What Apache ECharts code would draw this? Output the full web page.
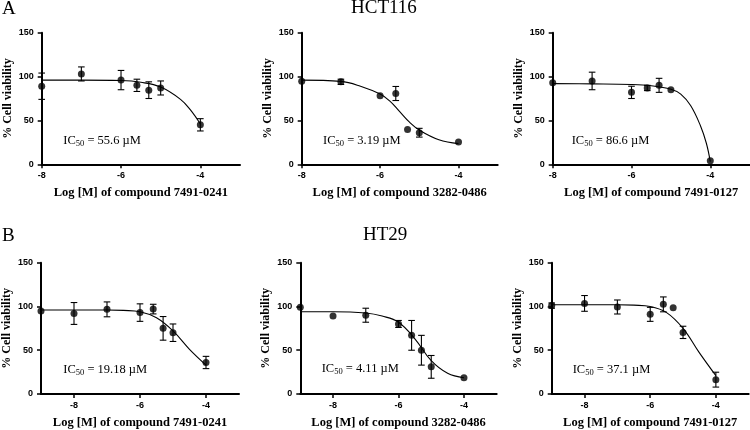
<!DOCTYPE html>
<html>
<head>
<meta charset="utf-8">
<script src="https://cdn.jsdelivr.net/npm/echarts@6/dist/echarts.min.js"></script>
<style>
  html, body { margin: 0; padding: 0; background: #fff; }
  #main { width: 750px; height: 430px; }
</style>
</head>
<body>
<div id="main"></div>
<script>
// log [M] doses
const dosesTop = [-8, -7, -6, -5.6, -5.3, -5, -4];
const dosesBottom = [-9, -8, -7, -6, -5.6, -5.3, -5, -4];
const xTicks = [-8, -6, -4];

// HCT116 - 7491-0241
const a1Mean = [89, 103, 96, 90, 84.5, 87, 45];
const a1Err = [15, 8, 11, 7, 9.5, 8, 7];
const a1FitX = [-8, -7, -6, -5.5, -5, -4.5, -4.25, -4];
const a1FitY = [96, 96, 95.5, 93.5, 88, 74, 62, 46];
// HCT116 - 3282-0486
const a2Mean = [94.8, 94, 78, 80.7, 39.6, 36, 25.5];
const a2Err = [0, 3, 0, 8, 0, 5, 0];
const a2FitX = [-8, -7, -6.5, -6, -5.75, -5.5, -5.25, -5, -4.5, -4];
const a2FitY = [96, 94.5, 89, 80, 72, 60, 48, 39, 28, 23.6];
// HCT116 - 7491-0127
const a3Mean = [92.9, 95, 82, 87, 90, 85, 4];
const a3Err = [0, 10, 7, 3, 8, 0, 0];
const a3FitX = [-8, -7, -6, -5.5, -5, -4.75, -4.5, -4.25, -4.1, -4];
const a3FitY = [92, 91.7, 91, 89.5, 85.5, 80, 67, 44, 24, 3];

// HT29 - 7491-0241
const b1Mean = [94.8, 92, 96.7, 93, 97, 75, 70, 36];
const b1Err = [0, 12.5, 8.5, 10, 5.5, 13.5, 10, 7];
const b1FitX = [-9, -8, -7, -6.5, -6, -5.5, -5, -4.5, -4];
const b1FitY = [96, 96, 96, 95.5, 94, 87, 72, 51, 33];
// HT29 - 3282-0486
const b2Mean = [99, 89, 90, 80, 67, 50, 31, 18.6];
const b2Err = [0, 0, 8, 4, 17, 17, 13, 0];
const b2FitX = [-9, -8, -7, -6.5, -6, -5.5, -5, -4.5, -4];
const b2FitY = [94, 94, 92.5, 89, 82, 63, 38, 23.6, 18.6];
// HT29 - 7491-0127
const b3Mean = [101, 103.5, 99.4, 91, 102.4, 98.6, 70.4, 16.4];
const b3Err = [3, 9, 8, 8, 8.5, 0, 7, 8.5];
const b3FitX = [-9, -8, -7, -6.5, -6, -5.5, -5, -4.5, -4];
const b3FitY = [102, 102, 102, 101.5, 100, 93, 75, 47, 21];

const compounds = ['7491-0241', '3282-0486', '7491-0127', '7491-0241', '3282-0486', '7491-0127'];
const ic50Values = ['55.6', '3.19', '86.6', '19.18', '4.11', '37.1'];

const panels = [
  { doses: dosesTop, mean: a1Mean, err: a1Err, fx: a1FitX, fy: a1FitY, min: -8 },
  { doses: dosesTop, mean: a2Mean, err: a2Err, fx: a2FitX, fy: a2FitY, min: -8 },
  { doses: dosesTop, mean: a3Mean, err: a3Err, fx: a3FitX, fy: a3FitY, min: -8 },
  { doses: dosesBottom, mean: b1Mean, err: b1Err, fx: b1FitX, fy: b1FitY, min: -9 },
  { doses: dosesBottom, mean: b2Mean, err: b2Err, fx: b2FitX, fy: b2FitY, min: -9 },
  { doses: dosesBottom, mean: b3Mean, err: b3Err, fx: b3FitX, fy: b3FitY, min: -9 }
];

// grid boxes [left, top, width, height]
const boxes = [
  [41.7, 32.7, 198.3, 131.6],
  [301.7, 32.7, 196, 131.6],
  [552.7, 32.7, 197, 131.6],
  [40, 262.7, 199, 131.6],
  [300.3, 262.7, 196.4, 131.6],
  [551.7, 262.7, 197, 131.6]
];
const icPos = [[63.3, 142.5], [323, 142], [571.7, 142.5], [63.3, 371], [321.7, 370], [572.7, 371.5]];

const serif = '"Liberation Serif", "Times New Roman", serif';
const sans = '"Liberation Sans", Arial, sans-serif';

function renderErr(params, api) {
  const x = api.value(0), m = api.value(1), e = api.value(2);
  if (!e) return null;
  const top = api.coord([x, m + e]);
  const bot = api.coord([x, m - e]);
  const w = 3.3;
  const st = { stroke: '#000', lineWidth: 1.1 };
  return {
    type: 'group',
    children: [
      { type: 'line', shape: { x1: top[0], y1: top[1], x2: bot[0], y2: bot[1] }, style: st },
      { type: 'line', shape: { x1: top[0] - w, y1: top[1], x2: top[0] + w, y2: top[1] }, style: st },
      { type: 'line', shape: { x1: bot[0] - w, y1: bot[1], x2: bot[0] + w, y2: bot[1] }, style: st }
    ]
  };
}

const grid = [], xAxis = [], yAxis = [], series = [], graphic = [];
const axisLineStyle = { color: '#000', width: 2 };
const tickLineStyle = { color: '#000', width: 1.5 };

panels.forEach((p, i) => {
  const b = boxes[i];
  grid.push({ left: b[0], top: b[1], width: b[2], height: b[3] });
  xAxis.push({
    gridIndex: i, type: 'value', min: p.min, max: -3,
    name: 'Log [M] of compound ' + compounds[i],
    nameLocation: 'middle', nameGap: 22,
    nameTextStyle: { fontFamily: serif, fontWeight: 'bold', fontSize: 12.5, color: '#000' },
    splitLine: { show: false },
    axisLine: { lineStyle: axisLineStyle },
    axisTick: { length: 4, customValues: xTicks, lineStyle: tickLineStyle },
    axisLabel: { customValues: xTicks, margin: 7, fontFamily: sans, fontWeight: 'bold', fontSize: 9, color: '#000' }
  });
  yAxis.push({
    gridIndex: i, type: 'value', min: 0, max: 150, interval: 50,
    name: '% Cell viability',
    nameLocation: 'middle', nameGap: 28,
    nameTextStyle: { fontFamily: serif, fontWeight: 'bold', fontSize: 12, color: '#000' },
    splitLine: { show: false },
    axisLine: { show: true, lineStyle: axisLineStyle },
    axisTick: { show: true, length: 4, lineStyle: tickLineStyle },
    axisLabel: { margin: 8, fontFamily: sans, fontWeight: 'bold', fontSize: 9, color: '#000' }
  });
  series.push({
    type: 'line', xAxisIndex: i, yAxisIndex: i, smooth: 0.4, showSymbol: false,
    lineStyle: { color: '#000', width: 1.1 },
    data: p.fx.map((x, k) => [x, p.fy[k]]),
    z: 2
  });
  series.push({
    type: 'custom', xAxisIndex: i, yAxisIndex: i,
    renderItem: renderErr,
    encode: { x: 0, y: 1 },
    data: p.doses.map((x, k) => [x, p.mean[k], p.err[k]]),
    z: 3
  });
  series.push({
    type: 'scatter', xAxisIndex: i, yAxisIndex: i, symbolSize: 7,
    itemStyle: { color: '#000' },
    data: p.doses.map((x, k) => [x, p.mean[k]]),
    z: 4
  });
  graphic.push({
    type: 'text', left: icPos[i][0], top: icPos[i][1] - 8,
    style: {
      text: '{a|IC}{s|50}{a| = ' + ic50Values[i] + ' µM}',
      rich: {
        a: { fontFamily: serif, fontSize: 12.5, color: '#000', lineHeight: 15 },
        s: { fontFamily: serif, fontSize: 8.5, color: '#000', lineHeight: 8, verticalAlign: 'bottom' }
      }
    }
  });
});

const headStyle = { fontFamily: serif, fontSize: 19, fill: '#000' };
graphic.push(
  { type: 'text', left: 2, top: 0, style: Object.assign({ text: 'A' }, headStyle) },
  { type: 'text', left: 351, top: -1, style: Object.assign({ text: 'HCT116' }, headStyle) },
  { type: 'text', left: 2, top: 227, style: Object.assign({ text: 'B' }, headStyle) },
  { type: 'text', left: 363, top: 226, style: Object.assign({ text: 'HT29' }, headStyle) }
);

const chart = echarts.init(document.getElementById('main'));
chart.setOption({
  animation: false,
  backgroundColor: '#fff',
  grid: grid,
  xAxis: xAxis,
  yAxis: yAxis,
  series: series,
  graphic: graphic
});
</script>
</body>
</html>
